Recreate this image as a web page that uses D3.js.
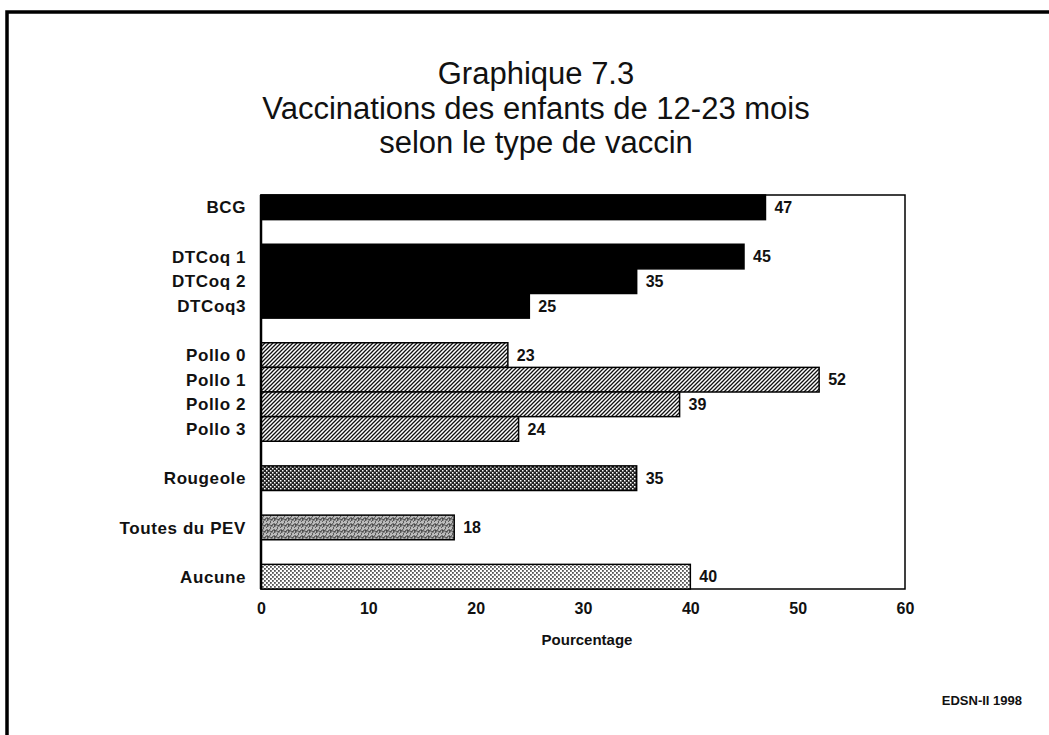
<!DOCTYPE html>
<html>
<head>
<meta charset="utf-8">
<script src="https://cdn.jsdelivr.net/npm/d3@7"></script>
<style>
  body { margin: 0; background: #fff; }
  svg { display: block; font-family: "Liberation Sans", Arial, sans-serif; }
</style>
</head>
<body>
<div id="graph"></div>
<script>
const titleLines = ['Graphique 7.3', 'Vaccinations des enfants de 12-23 mois', 'selon le type de vaccin']
const categories = ['BCG', 'DTCoq 1', 'DTCoq 2', 'DTCoq3', 'Pollo 0', 'Pollo 1', 'Pollo 2', 'Pollo 3', 'Rougeole', 'Toutes du PEV', 'Aucune']
const groups = ['bcg', 'dtcoq', 'dtcoq', 'dtcoq', 'polio', 'polio', 'polio', 'polio', 'rougeole', 'toutes', 'aucune']
const values = [47, 45, 35, 25, 23, 52, 39, 24, 35, 18, 40]
const xTicks = [0, 10, 20, 30, 40, 50, 60]
const xLabel = 'Pourcentage'
const source = 'EDSN-II 1998'

const WIDTH = 1049
const HEIGHT = 735

const barChart = (width, height) => {
  const margin = { left: 261, right: 905, top: 195, bottom: 589 }

  const rows = categories.map((c, i) => ({ name: c, group: groups[i], value: values[i] }))

  // band domain with an empty slot between every group
  const slots = []
  rows.forEach((d, i) => {
    if (i > 0 && d.group !== rows[i - 1].group) slots.push('gap' + i)
    slots.push(d.name)
  })

  const x = d3.scaleLinear().domain([0, 60]).range([margin.left, margin.right])
  const y = d3.scaleBand().domain(slots).range([margin.top, margin.bottom]).padding(0)

  const svg = d3
    .select('#graph')
    .append('svg')
      .attr('width', width)
      .attr('height', height)

  const defs = svg.append('defs')

  const hatch = defs.append('pattern')
    .attr('id', 'hatch')
    .attr('patternUnits', 'userSpaceOnUse')
    .attr('width', 4)
    .attr('height', 4)
  hatch.append('rect').attr('width', 4).attr('height', 4).attr('fill', '#fff')
  hatch.append('path')
    .attr('d', 'M-1,1 l2,-2 M0,4 l4,-4 M3,5 l2,-2')
    .attr('stroke', '#111')
    .attr('stroke-width', 1.3)

  const dark = defs.append('pattern')
    .attr('id', 'dark')
    .attr('patternUnits', 'userSpaceOnUse')
    .attr('width', 4)
    .attr('height', 4)
  dark.append('rect').attr('width', 4).attr('height', 4).attr('fill', '#222')
  dark.append('rect').attr('x', 0).attr('y', 0).attr('width', 1.5).attr('height', 1.5).attr('fill', '#fff')
  dark.append('rect').attr('x', 2).attr('y', 2).attr('width', 1.5).attr('height', 1.5).attr('fill', '#fff')

  const rough = defs.append('pattern')
    .attr('id', 'rough')
    .attr('patternUnits', 'userSpaceOnUse')
    .attr('width', 7)
    .attr('height', 6)
  rough.append('rect').attr('width', 7).attr('height', 6).attr('fill', '#bdbdbd')
  rough.append('path')
    .attr('d', 'M0,6 l5,-6 M4,6 l3,-4 M0,2 l7,2 M1,1 l1,4')
    .attr('stroke', '#444')
    .attr('stroke-width', 0.9)

  const light = defs.append('pattern')
    .attr('id', 'light')
    .attr('patternUnits', 'userSpaceOnUse')
    .attr('width', 4)
    .attr('height', 4)
  light.append('rect').attr('width', 4).attr('height', 4).attr('fill', '#fff')
  light.append('rect').attr('x', 0).attr('y', 0).attr('width', 1.8).attr('height', 1.8).attr('fill', '#555')
  light.append('rect').attr('x', 2).attr('y', 2).attr('width', 1.8).attr('height', 1.8).attr('fill', '#555')

  const fill = d3.scaleOrdinal()
    .domain(['bcg', 'dtcoq', 'polio', 'rougeole', 'toutes', 'aucune'])
    .range(['#000', '#000', 'url(#hatch)', 'url(#dark)', 'url(#rough)', 'url(#light)'])

  // page border (top and left only)
  svg.append('path')
    .attr('d', `M7,${height} V12 H${width}`)
    .attr('fill', 'none')
    .attr('stroke', '#000')
    .attr('stroke-width', 3.5)

  svg.append('g')
    .attr('text-anchor', 'middle')
    .attr('font-size', 31)
    .attr('fill', '#111')
    .selectAll('text')
    .data(titleLines)
    .join('text')
      .attr('x', 536)
      .attr('y', (d, i) => 84 + i * 34.5)
      .text(d => d)

  // plot frame
  svg.append('rect')
    .attr('x', margin.left)
    .attr('y', margin.top)
    .attr('width', margin.right - margin.left)
    .attr('height', margin.bottom - margin.top)
    .attr('fill', 'none')
    .attr('stroke', '#000')
    .attr('stroke-width', 1.5)

  svg.append('g')
    .attr('stroke', '#000')
    .attr('stroke-width', 1.5)
    .selectAll('rect')
    .data(rows)
    .join('rect')
      .attr('x', x(0))
      .attr('y', d => y(d.name))
      .attr('width', d => x(d.value) - x(0))
      .attr('height', y.bandwidth())
      .attr('fill', d => fill(d.group))

  svg.append('line')
    .attr('x1', x(0))
    .attr('x2', x(0))
    .attr('y1', margin.top)
    .attr('y2', margin.bottom)
    .attr('stroke', '#000')
    .attr('stroke-width', 2.5)

  svg.append('g')
    .attr('font-size', 16)
    .attr('font-weight', 'bold')
    .attr('fill', '#111')
    .selectAll('text')
    .data(rows)
    .join('text')
      .attr('x', d => x(d.value) + 9)
      .attr('y', d => y(d.name) + y.bandwidth() / 2)
      .attr('dy', '0.36em')
      .text(d => d.value)

  svg.append('g')
    .attr('font-size', 17)
    .attr('font-weight', 'bold')
    .attr('letter-spacing', 0.6)
    .attr('text-anchor', 'end')
    .attr('fill', '#111')
    .selectAll('text')
    .data(rows)
    .join('text')
      .attr('x', 246)
      .attr('y', d => y(d.name) + y.bandwidth() / 2)
      .attr('dy', '0.36em')
      .text(d => d.name)

  const axis = svg.append('g')
    .attr('transform', `translate(0,${margin.bottom})`)
    .call(d3.axisBottom(x).tickValues(xTicks).tickSize(0).tickPadding(14))

  axis.select('.domain').remove()
  axis.selectAll('text')
    .attr('font-family', '"Liberation Sans", Arial, sans-serif')
    .attr('font-size', 16)
    .attr('font-weight', 'bold')
    .attr('fill', '#111')

  svg.append('text')
    .attr('x', 587)
    .attr('y', 645)
    .attr('text-anchor', 'middle')
    .attr('font-size', 15)
    .attr('font-weight', 'bold')
    .attr('fill', '#111')
    .text(xLabel)

  svg.append('text')
    .attr('x', 1022)
    .attr('y', 705)
    .attr('text-anchor', 'end')
    .attr('font-size', 13)
    .attr('font-weight', 'bold')
    .attr('fill', '#111')
    .text(source)
}

barChart(WIDTH, HEIGHT)
</script>
</body>
</html>
